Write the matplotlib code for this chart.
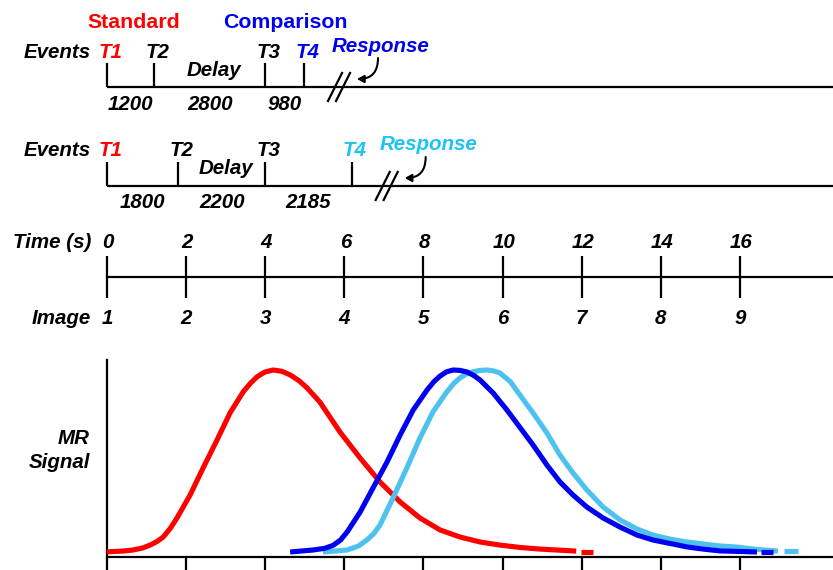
import matplotlib
matplotlib.use("Agg")
import matplotlib.pyplot as plt
import numpy as np

# ---------------- data ----------------
row1_durations_ms = [1200, 2800, 980]
row2_durations_ms = [1800, 2200, 2185]
event_labels = ["T1", "T2", "T3", "T4"]
time_ticks_s = [0, 2, 4, 6, 8, 10, 12, 14, 16]
image_labels = ["1", "2", "3", "4", "5", "6", "7", "8", "9"]

red_t = [0.0, 0.08, 0.40, 0.66, 0.90, 1.09, 1.26, 1.42, 1.60, 1.77, 2.10, 2.43, 2.78, 3.11, 3.44, 3.62,
         3.79, 3.98, 4.20, 4.42, 4.63, 4.85, 5.06, 5.38, 5.89, 6.40, 6.90, 7.41, 7.91, 8.42, 8.93, 9.43,
         9.93, 10.44, 10.95, 11.86]
red_s = [0.0, 0.002, 0.005, 0.011, 0.022, 0.038, 0.057, 0.082, 0.130, 0.187, 0.313, 0.462, 0.615, 0.764,
         0.879, 0.926, 0.962, 0.988, 1.0, 0.993, 0.973, 0.942, 0.901, 0.824, 0.659, 0.516, 0.385, 0.275,
         0.187, 0.121, 0.082, 0.055, 0.038, 0.025, 0.016, 0.005]
red_tail_t = [11.98, 12.28]
red_tail_s = [0.002, 0.002]

blue_t = [4.63, 5.21, 5.50, 5.71, 5.90, 6.07, 6.40, 6.72, 7.08, 7.41, 7.74, 8.09, 8.26, 8.42, 8.58, 8.75,
          8.92, 9.10, 9.27, 9.43, 9.76, 10.11, 10.44, 10.77, 11.12, 11.45, 11.78, 12.13, 12.54, 12.97,
          13.40, 13.80, 14.23, 14.66, 15.07, 15.50, 16.43]
blue_s = [0.0, 0.011, 0.020, 0.036, 0.065, 0.11, 0.22, 0.35, 0.495, 0.643, 0.78, 0.89, 0.935, 0.967,
          0.990, 1.0, 0.998, 0.989, 0.970, 0.945, 0.874, 0.78, 0.684, 0.588, 0.478, 0.385, 0.313, 0.247,
          0.187, 0.137, 0.093, 0.066, 0.047, 0.028, 0.016, 0.006, 0.0]
blue_tail_t = [16.53, 16.84]
blue_tail_s = [0.0, 0.0]

cyan_t = [5.46, 6.07, 6.35, 6.57, 6.75, 6.90, 7.23, 7.58, 7.91, 8.24, 8.59, 8.76, 8.92, 9.08, 9.25, 9.43,
          9.61, 9.77, 9.93, 10.20, 10.44, 10.77, 11.12, 11.45, 11.78, 12.13, 12.54, 12.97, 13.40, 13.80,
          14.23, 14.66, 15.07, 15.50, 15.93, 16.33, 16.96]
cyan_s = [0.0, 0.011, 0.032, 0.066, 0.103, 0.148, 0.297, 0.462, 0.626, 0.77, 0.88, 0.925, 0.956, 0.978,
          0.990, 0.998, 1.0, 0.995, 0.984, 0.935, 0.862, 0.764, 0.654, 0.533, 0.434, 0.341, 0.247, 0.176,
          0.126, 0.093, 0.071, 0.055, 0.044, 0.033, 0.027, 0.016, 0.005]
cyan_tail_t = [17.11, 17.47]
cyan_tail_s = [0.005, 0.005]

# ---------------- style ----------------
RED = "#FF0000"
BLUE = "#0000F0"
CYAN_TXT = "#1FC3F3"
CYAN_LINE = "#4DC2EE"
W, H = 833, 570
X0_PX, PX_PER_S = 107, 39.56
XLIM = ((0 - X0_PX) / PX_PER_S, (W - X0_PX) / PX_PER_S)
LW = 1.6
FS = 14.8
FONT = "Liberation Sans"

fig = plt.figure(figsize=(W / 100, H / 100), dpi=100)
ax = fig.add_axes([0, 0, 1, 1])
ax.set_xlim(*XLIM)
ax.set_ylim(H, 0)
ax.axis("off")


def px(dx):
    return dx / PX_PER_S


def bi(a, x, y, s, color="black", size=FS, ha="center", style="italic"):
    a.text(x, y, s, color=color, fontsize=size, fontweight="bold", fontstyle=style,
           ha=ha, va="center", family=FONT)


def event_row(durations, y_line, y_lab, y_num, y_delay, t4_color, resp_color, y_resp):
    ticks = np.concatenate([[0], np.cumsum(durations) / 1000.0])
    ax.plot([0, XLIM[1]], [y_line, y_line], color="black", lw=LW, solid_capstyle="butt")
    ax.vlines(ticks, y_line - 24, y_line, color="black", lw=LW)
    colors = [RED, "black", "black", t4_color]
    for t, lab, c in zip(ticks, event_labels, colors):
        bi(ax, t + px(3), y_lab, lab, color=c)
    bi(ax, px(-16), y_lab, "Events", ha="right")
    for i, d in enumerate(durations):
        bi(ax, (ticks[i] + ticks[i + 1]) / 2, y_num, str(d))
    bi(ax, (ticks[1] + ticks[2]) / 2 + px(4), y_delay, "Delay")
    # break marks
    tb = ticks[-1] + px(35)
    for off in (-4, 4):
        ax.plot([tb + px(off - 7), tb + px(off + 7)], [y_line + 14, y_line - 14], color="black", lw=LW)
    # response text and arrow
    bi(ax, tb + px(42), y_resp, "Response", color=resp_color)
    ax.annotate("", xy=(tb + px(18), y_line - 8), xytext=(tb + px(39), y_line - 29),
                arrowprops=dict(arrowstyle="-|>,head_length=0.4,head_width=0.22", color="black", lw=1.5,
                                connectionstyle="angle3,angleA=90,angleB=0", shrinkA=0, shrinkB=0))


bi(ax, px(27), 22, "Standard", color=RED, size=15.3, style="normal")
bi(ax, px(178), 22, "Comparison", color=BLUE, size=15.3, style="normal")

event_row(row1_durations_ms, 87, 52, 104, 70, BLUE, BLUE, 46)
event_row(row2_durations_ms, 186, 151, 203, 169, CYAN_TXT, CYAN_TXT, 144)

# time axis
ax.plot([0, XLIM[1]], [277, 277], color="black", lw=LW)
ax.vlines(time_ticks_s, 256, 298, color="black", lw=LW)
for t, lab in zip(time_ticks_s, time_ticks_s):
    bi(ax, t + px(1), 242, str(lab))
for t, lab in zip(time_ticks_s, image_labels):
    bi(ax, t + px(0), 318, lab)
bi(ax, px(-16), 242, "Time (s)", ha="right")
bi(ax, px(-16), 318, "Image", ha="right")

# ---------------- MR signal panel ----------------
top_px, base_px, peak_px = 340, 552, 370
span = base_px - peak_px
bx = fig.add_axes([0, 0, 1, (H - top_px) / H])
bx.patch.set_alpha(0)
bx.set_xlim(*XLIM)
bx.set_ylim((base_px - H) / span, (base_px - top_px) / span)
bx.axis("off")

axis_s = (base_px - 556.5) / span
bx.plot([0, XLIM[1]], [axis_s, axis_s], color="black", lw=LW, solid_capstyle="butt")
bx.plot([0, 0], [axis_s, (base_px - 360) / span], color="black", lw=LW)
bx.vlines(time_ticks_s, (base_px - H) / span, axis_s, color="black", lw=LW)

cw = 3.7
bx.plot(red_t, red_s, color=RED, lw=cw, solid_capstyle="butt", solid_joinstyle="round", zorder=3)
bx.plot(red_tail_t, red_tail_s, color=RED, lw=cw, solid_capstyle="butt", zorder=3)
bx.plot(cyan_t, cyan_s, color=CYAN_LINE, lw=cw, solid_capstyle="butt", solid_joinstyle="round", zorder=4)
bx.plot(cyan_tail_t, cyan_tail_s, color=CYAN_LINE, lw=cw, solid_capstyle="butt", zorder=4)
bx.plot(blue_t, blue_s, color=BLUE, lw=cw, solid_capstyle="butt", solid_joinstyle="round", zorder=5)
bx.plot(blue_tail_t, blue_tail_s, color=BLUE, lw=cw, solid_capstyle="butt", zorder=5)

bi(bx, px(-17), (base_px - 438) / span, "MR", ha="right")
bi(bx, px(-17), (base_px - 462) / span, "Signal", ha="right")

fig.savefig("out.png", dpi=100)
